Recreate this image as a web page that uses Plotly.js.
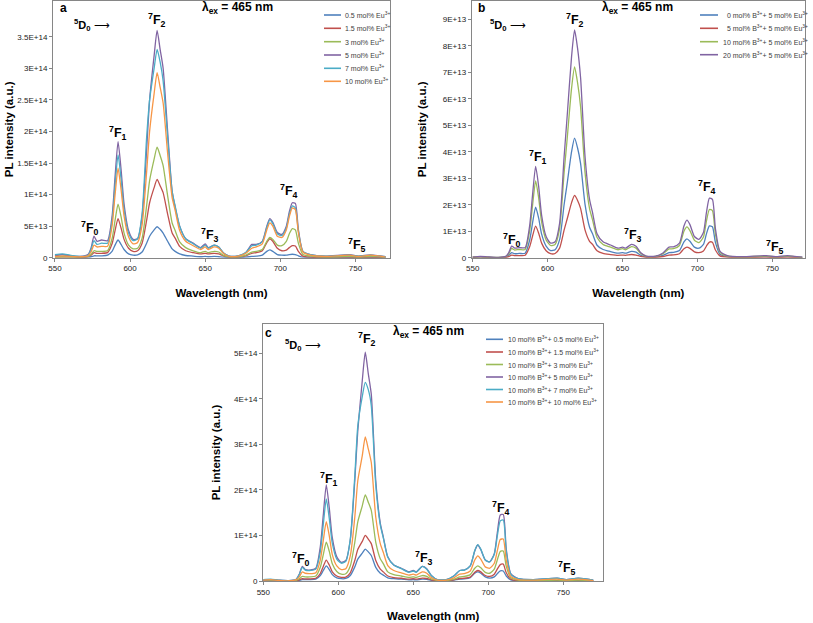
<!DOCTYPE html>
<html><head><meta charset="utf-8">
<script src="https://cdn.plot.ly/plotly-3.0.1.min.js"></script>
<style>html,body{margin:0;padding:0;background:#fff}#chart{width:813px;height:623px}</style>
</head><body><div id="chart"></div>
<script>
// wavelength grid (nm)
const wl = [550,555,560,567,572,574,576,578,581,585,588,590,592,594,596,599,602,605,608,611,613,616,618,620,622,625,628,630,633,637,642,647,650,652,656,659,662,666,672,677,681,684,688,691,693,695,698,701,704,706,708,710,712,715,720,730,746,752,760,770];

// Panel a (units of 1E13)
const a_names = ["0.5 mol% Eu<sup>3+</sup>","1.5 mol% Eu<sup>3+</sup>","3 mol% Eu<sup>3+</sup>","5 mol% Eu<sup>3+</sup>","7 mol% Eu<sup>3+</sup>","10 mol% Eu<sup>3+</sup>"];
const a_05 = [0.4,0.5,0.3,0.1,0.1,0.15,0.3,0.3,0.3,0.4,1.0,2.0,2.8,2.1,1.3,0.6,0.4,0.45,0.9,2.3,3.4,4.4,4.9,4.5,3.9,2.6,1.4,1.0,0.6,0.35,0.25,0.15,0.2,0.15,0.2,0.15,0.08,0.03,0.03,0.08,0.2,0.25,0.4,1.0,1.25,1.0,0.5,0.4,0.4,0.5,0.55,0.5,0.3,0.08,0.05,0.03,0.05,0.03,0.05,0.02];
const a_15 = [0.1,0.1,0.1,0.05,0.15,0.4,0.8,0.7,0.7,0.8,2.2,4.3,6.2,4.7,2.9,1.5,1.0,1.1,2.3,5.9,8.7,11.1,12.4,11.4,10.3,6.9,3.9,3.1,1.8,1.1,0.8,0.6,0.7,0.6,0.7,0.6,0.3,0.1,0.1,0.3,0.7,0.8,1.1,2.4,3.0,2.6,1.5,1.1,1.2,1.6,1.9,1.85,1.0,0.25,0.1,0.05,0.1,0.05,0.1,0.03];
const a_3 = [0.1,0.15,0.1,0.1,0.2,0.5,1.1,1.0,1.0,1.1,3.0,5.9,8.5,6.5,3.9,2.0,1.4,1.5,3.1,8.2,12.2,15.6,17.5,16.2,14.6,9.8,5.5,4.3,2.5,1.6,1.1,0.8,1.0,0.8,1.0,0.9,0.4,0.12,0.15,0.4,0.9,1.0,1.3,2.6,3.2,2.9,2.0,1.9,2.6,3.8,4.6,4.4,2.3,0.5,0.25,0.1,0.2,0.1,0.2,0.05];
const a_5 = [0.3,0.5,0.3,0.2,0.5,1.5,3.4,2.6,2.8,2.7,6.5,12.8,18.4,14,8.5,4.3,2.9,3.0,6.5,17,25,32,36,33,30,20,10.5,8,5,3,2.3,1.6,2.2,1.6,2.0,1.7,0.8,0.25,0.3,0.8,2.1,2.1,2.6,5.0,6.2,5.6,4.0,3.7,5.0,7.3,8.7,8.6,4.5,1.0,0.5,0.25,0.5,0.25,0.45,0.15];
const a_7 = [0.5,0.6,0.4,0.2,0.4,1.3,2.7,2.1,2.3,2.3,5.8,11.5,16.3,12.5,7.6,3.9,2.7,3.0,7.0,19,25,30,33,31,28,19,10.5,8.2,5,3,2.2,1.5,2.0,1.5,2.0,1.7,0.8,0.25,0.3,0.8,1.9,2.0,2.5,4.8,6.0,5.4,3.8,3.5,4.7,6.9,8.2,7.9,4.2,1.0,0.5,0.25,0.4,0.25,0.4,0.15];
const a_10 = [0.2,0.3,0.2,0.15,0.3,0.9,2.0,1.7,1.8,1.8,5.0,9.9,14.2,10.8,6.6,3.3,2.2,2.4,5.2,13.5,20,26,29.3,27,24.5,16.5,9.5,7.5,4.3,2.6,1.9,1.3,1.7,1.3,1.7,1.5,0.7,0.2,0.25,0.7,1.5,1.7,2.2,4.4,5.5,5.0,3.4,3.2,4.4,6.5,7.9,7.6,4.0,0.9,0.4,0.2,0.4,0.2,0.4,0.1];
const a_ticks = [0,5,10,15,20,25,30,35];
const a_ticktext = ["0","5E+13","1E+14","1.5E+14","2E+14","2.5E+14","3E+14","3.5E+14"];

// Panel b (units of 1E12)
const b_names = ["\u00a0\u00a00 mol% B<sup>3+</sup>+ 5 mol% Eu<sup>3+</sup>","\u00a0\u00a05 mol% B<sup>3+</sup>+ 5 mol% Eu<sup>3+</sup>","10 mol% B<sup>3+</sup>+ 5 mol% Eu<sup>3+</sup>","20 mol% B<sup>3+</sup>+ 5 mol% Eu<sup>3+</sup>"];
const b_0 = [0.1,0.2,0.1,0.05,0.2,0.8,1.9,1.5,1.6,1.7,6.6,13.3,19.1,15,8.9,4.4,2.7,3.0,6.8,20,27.8,40,45.1,41.4,35.6,20,11.5,9,4.7,3.1,2.3,1.7,1.9,1.7,2.4,2.1,1.0,0.3,0.3,0.9,1.9,2.0,2.7,6.0,7.1,6.2,4.0,3.6,5.0,9.0,12.0,11.7,5.8,1.3,0.4,0.2,0.4,0.2,0.4,0.1];
const b_5 = [0.1,0.3,0.15,0.05,0.1,0.4,1.0,0.8,0.8,0.9,4.1,8.3,11.9,9.3,5.5,2.6,1.5,1.6,3.6,10.4,14.5,20.8,23.5,21.6,18.6,10.4,6.2,5.0,2.6,1.6,1.2,0.9,1.0,0.9,1.2,1.0,0.5,0.15,0.15,0.45,1.0,1.05,1.5,3.4,4.0,3.5,2.2,1.9,2.5,4.4,5.9,5.8,2.9,0.7,0.2,0.1,0.2,0.1,0.2,0.05];
const b_10 = [0.2,0.4,0.2,0.1,0.4,1.4,3.5,2.9,3.1,3.1,10,20,29,22.7,13.4,6.7,4.6,5.0,11,32,44.5,64,72,66,57,32,18.5,14.3,7.6,5,4.0,3.0,3.4,3.0,4.2,3.6,1.7,0.5,0.5,1.5,3.3,3.4,4.6,10,11.6,10.2,6.6,5.7,7.8,13.8,18.2,17.8,8.9,2.0,0.6,0.3,0.6,0.3,0.6,0.15];
const b_20 = [0.2,0.5,0.3,0.1,0.5,1.8,4.4,3.6,3.8,3.8,12,24,34.5,27,16,8,5.5,6.0,13,38,53,76,86,79,68,38,22,17,9,6,4.8,3.6,4.0,3.6,5.0,4.3,2.0,0.6,0.6,1.8,4.0,4.1,5.5,12,14.2,12.5,8,6.9,9.5,17,22.5,22,11,2.5,0.8,0.4,0.8,0.4,0.8,0.2];
const b_ticks = [0,10,20,30,40,50,60,70,80,90];
const b_ticktext = ["0","1E+13","2E+13","3E+13","4E+13","5E+13","6E+13","7E+13","8E+13","9E+13"];

// Panel c (units of 1E13)
const c_names = ["10 mol% B<sup>3+</sup>+ 0.5 mol% Eu<sup>3+</sup>","10 mol% B<sup>3+</sup>+ 1.5 mol% Eu<sup>3+</sup>","10 mol% B<sup>3+</sup>+ 3 mol% Eu<sup>3+</sup>","10 mol% B<sup>3+</sup>+ 5 mol% Eu<sup>3+</sup>","10 mol% B<sup>3+</sup>+ 7 mol% Eu<sup>3+</sup>","10 mol% B<sup>3+</sup>+ 10 mol% Eu<sup>3+</sup>"];
const c_05 = [0.05,0.1,0.05,0.03,0.05,0.15,0.3,0.3,0.3,0.4,1.2,2.3,3.3,2.5,1.4,0.7,0.5,0.55,1.2,3.1,4.8,6.1,7.0,6.4,5.6,3.0,1.7,1.3,0.7,0.5,0.4,0.25,0.3,0.25,0.4,0.35,0.15,0.04,0.04,0.2,0.4,0.45,0.75,1.7,2.0,1.7,0.9,0.65,0.9,1.6,2.2,2.2,1.1,0.25,0.05,0.03,0.05,0.03,0.05,0.02];
const c_15 = [0.05,0.1,0.05,0.03,0.08,0.25,0.5,0.45,0.45,0.6,1.65,3.2,4.6,3.5,2.0,1.1,0.8,0.85,1.8,4.5,6.9,8.7,10,9.2,8.2,4.5,2.6,2.0,1.1,0.75,0.6,0.4,0.5,0.4,0.65,0.55,0.25,0.06,0.06,0.25,0.55,0.6,0.85,1.9,2.3,2.0,1.2,1.0,1.5,2.6,3.6,3.7,1.8,0.4,0.1,0.05,0.1,0.05,0.1,0.03];
const c_3 = [0.1,0.15,0.1,0.05,0.15,0.5,1.0,0.9,0.9,1.1,3.0,5.8,8.5,6.5,3.8,2.1,1.5,1.6,3.3,8.5,13,16.5,18.9,17.3,15.5,8.5,4.9,3.8,2.0,1.4,1.1,0.8,0.9,0.8,1.2,1.0,0.45,0.12,0.12,0.4,0.9,1.0,1.4,2.8,3.3,2.9,1.9,1.7,2.6,4.6,6.5,6.6,3.2,0.7,0.2,0.1,0.2,0.1,0.2,0.05];
const c_5 = [0.2,0.3,0.2,0.1,0.4,1.5,3.2,2.5,2.4,2.8,7.5,14.5,21.1,16,9.5,5.3,4.1,4.5,9,22,33,44,50.2,45.5,41,22,12.7,9.7,5.3,3.5,2.8,2.0,2.3,2.0,3.2,2.7,1.2,0.3,0.3,1.1,2.3,2.4,3.3,6.6,7.9,6.9,4.6,4.2,6.0,10.5,14.5,14.6,7.0,1.6,0.5,0.3,0.6,0.3,0.6,0.2];
const c_7 = [0.3,0.4,0.2,0.1,0.4,1.4,3.0,2.4,2.3,2.6,6.4,12.4,18,13.7,8.3,4.8,3.9,4.3,9.2,23,34,40.5,43.6,42,38.5,21,12.3,9.5,5.2,3.5,2.7,1.9,2.2,1.9,3.2,2.6,1.2,0.3,0.3,1.1,2.3,2.4,3.3,6.7,8.0,7.0,4.6,4.2,5.8,9.8,13.2,13.4,6.5,1.5,0.5,0.3,0.6,0.3,0.6,0.2];
const c_10 = [0.2,0.3,0.15,0.05,0.3,0.9,2.0,1.7,1.6,1.8,4.6,8.9,13,9.9,5.8,3.3,2.5,2.7,5.5,14,22,27.5,31.6,29,26,14,8.2,6.3,3.4,2.3,1.8,1.3,1.5,1.3,2.0,1.7,0.75,0.2,0.2,0.7,1.5,1.6,2.2,4.6,5.5,4.8,3.1,2.8,3.9,6.6,9.1,9.2,4.5,1.0,0.3,0.2,0.4,0.2,0.4,0.1];
const c_ticks = [0,10,20,30,40,50];
const c_ticktext = ["0","1E+14","2E+14","3E+14","4E+14","5E+14"];

const x_ticks = [550,600,650,700,750];
const colors6 = ["#4F81BD","#C0504D","#9BBB59","#8064A2","#4BACC6","#F79646"];
const colors4 = ["#4F81BD","#C0504D","#9BBB59","#8064A2"];

const FONT = "Liberation Sans, Arial, sans-serif";
const W = 813, H = 623;
const px = v => v / W, py = v => 1 - v / H;

const traces = [];
function addSeries(arrs, names, cols, xa, ya) {
  arrs.forEach((y, i) => traces.push({
    x: wl, y: y, name: names[i], type: "scatter", mode: "lines",
    xaxis: xa, yaxis: ya, showlegend: false,
    line: {color: cols[i], width: 1.3, shape: "spline", smoothing: 0.6},
    hoverinfo: "x+y+name"
  }));
}
addSeries([a_05,a_15,a_3,a_5,a_7,a_10], a_names, colors6, "x", "y");
addSeries([b_0,b_5,b_10,b_20], b_names, colors4, "x2", "y2");
addSeries([c_05,c_15,c_3,c_5,c_7,c_10], c_names, colors6, "x3", "y3");

const shapes = [], annotations = [];
function legend(names, cols, rows, x0, x1, xt) {
  names.forEach((n, i) => {
    shapes.push({type: "line", xref: "paper", yref: "paper", x0: px(x0), x1: px(x1), y0: py(rows[i]), y1: py(rows[i]),
      line: {color: cols[i], width: 1.6}});
    annotations.push({xref: "paper", yref: "paper", x: px(xt), y: py(rows[i]), xanchor: "left", yanchor: "middle",
      text: n, showarrow: false, font: {family: FONT, size: 7, color: "#404040"}});
  });
}
legend(a_names, colors6, [15,28.3,41.7,55,68.3,81.3], 324, 341, 343);
legend(b_names, colors4, [15,28.3,41.7,54.7], 700, 718, 721);
legend(c_names, colors6, [339.3,352,364.5,377,389.5,402], 486, 503, 506);

function txt(x, y, text, size, anchor) {
  annotations.push({xref: "paper", yref: "paper", x: px(x), y: py(y), xanchor: anchor || "center", yanchor: "middle",
    text: text, showarrow: false, font: {family: FONT, size: size, color: "#000"}});
}
const lam = "<b>λ<sub>ex</sub> = 465 nm</b>";
const d0 = "<b><sup>5</sup>D<sub>0</sub></b> ⟶";
txt(63, 8, "<b>a</b>", 12); txt(238, 8, lam, 12); txt(72, 25, d0, 11, "left");
txt(482, 8, "<b>b</b>", 12); txt(637, 8, lam, 12); txt(488, 25, d0, 11, "left");
txt(268.5, 333, "<b>c</b>", 12); txt(429, 332, lam, 12); txt(283, 345, d0, 11, "left");

function peak(xr, yr, x, y, k) {
  annotations.push({xref: xr, yref: yr, x: x, y: y, xanchor: "center", yanchor: "middle", showarrow: false,
    text: "<b><sup>7</sup>F<sub>" + k + "</sub></b>", font: {family: FONT, size: 12.5, color: "#000"}});
}
[[573.3,4.7],[592.2,19.7],[617.8,37.7],[653.3,3.6],[705.5,10.5],[751.1,2.0]].forEach((p,k)=>peak("x","y",p[0],p[1],k));
[[576,6.7],[593.8,38.1],[618.3,89.7],[657.2,8.6],[706.2,26.8],[751.8,4.2]].forEach((p,k)=>peak("x2","y2",p[0],p[1],k));
[[574.9,4.8],[593.7,22.4],[619.3,53.0],[657.1,5.0],[708.2,16.0],[752.7,2.8]].forEach((p,k)=>peak("x3","y3",p[0],p[1],k));

const tickFont = {family: FONT, size: 8, color: "#222"};
const titleFont = {family: FONT, size: 11.5, color: "#000", weight: "bold"};
function xax(dom, range, anchor) {
  return {domain: dom, range: range, anchor: anchor, tickvals: x_ticks, ticktext: x_ticks.map(String),
    showgrid: false, zeroline: false, showline: true, mirror: true, linecolor: "#868686", linewidth: 1,
    ticks: "outside", ticklen: 3, tickcolor: "#868686", tickfont: tickFont, automargin: false,
    title: {text: "<b>Wavelength (nm)</b>", font: titleFont, standoff: 16}};
}
function yax(dom, range, anchor, tv, tt, so) {
  return {domain: dom, range: range, anchor: anchor, tickvals: tv, ticktext: tt,
    showgrid: false, zeroline: false, showline: true, mirror: true, linecolor: "#868686", linewidth: 1,
    ticks: "outside", ticklen: 3, tickcolor: "#868686", tickfont: tickFont, automargin: false,
    title: {text: "<b>PL intensity (a.u.)</b>", font: titleFont, standoff: so}};
}

const layout = {
  width: W, height: H, margin: {l: 0, r: 0, t: 0, b: 0},
  paper_bgcolor: "#fff", plot_bgcolor: "#fff", showlegend: false,
  xaxis: xax([px(53), px(390)], [548.7, 773], "y"),
  yaxis: yax([1 - 257.7/H, 1 - 1/H], [0, 40.66], "x", a_ticks, a_ticktext, 1),
  xaxis2: xax([px(471.7), px(805)], [549.33, 771.8], "y2"),
  yaxis2: yax([1 - 257.7/H, 1 - 1/H], [0, 96.9], "x2", b_ticks, b_ticktext, 13),
  xaxis3: xax([px(263), px(603.3)], [549.8, 776.7], "y3"),
  yaxis3: yax([1 - 581/H, 1 - 324/H], [0, 56.4], "x3", c_ticks, c_ticktext, 11),
  shapes: shapes, annotations: annotations,
  font: {family: FONT}
};
Plotly.newPlot("chart", traces, layout, {displayModeBar: false, staticPlot: true});
</script></body></html>
